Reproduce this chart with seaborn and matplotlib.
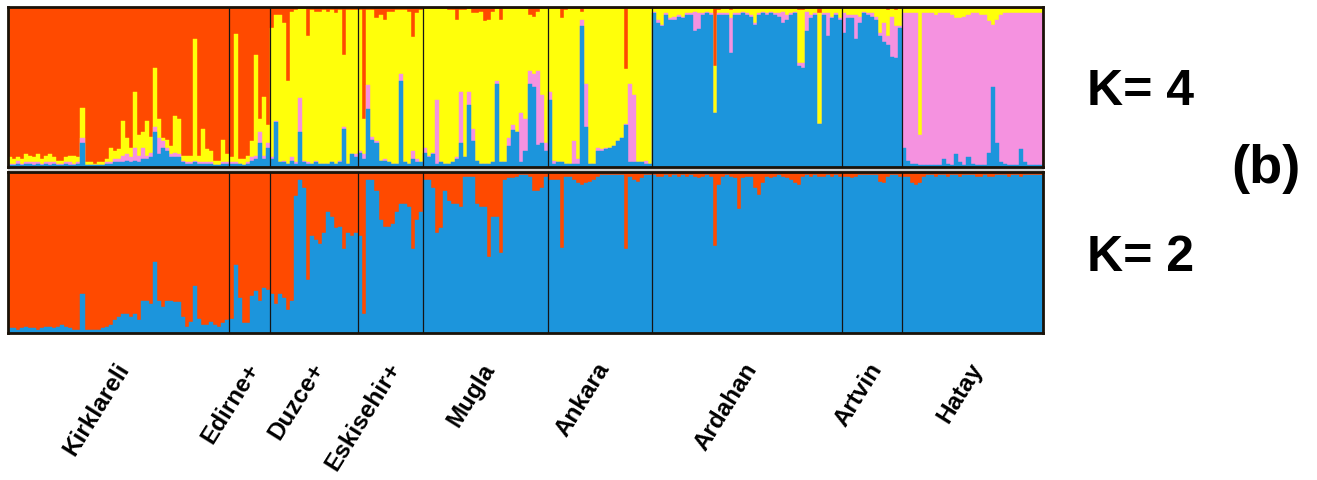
import numpy as np
import pandas as pd
import matplotlib
matplotlib.use("Agg")
import matplotlib.pyplot as plt
import seaborn as sns
from matplotlib.transforms import ScaledTranslation
from matplotlib.patches import Rectangle

sns.set_theme(style="white")
plt.rcParams["font.family"] = ["Liberation Sans", "DejaVu Sans"]
plt.rcParams["text.color"] = "black"
plt.rcParams["xtick.color"] = "black"

# ---------------- data ----------------
pop_names = ["Kirklareli", "Edirne+", "Duzce+", "Eskisehir+", "Mugla",
             "Ankara", "Ardahan", "Artvin", "Hatay"]
pop_sizes = [55, 10, 22, 16, 31, 26, 47, 15, 35]

# K = 4 membership (blue, pink, yellow); red = remainder
k4_blue = [
    # Kirklareli
    .01, .01, .02, .01, .02, .02, .01, .02, .01, .02, .01, .02, .01, .01, .02, .01, .01, .02,
    .15, .01, .01, .01, .01, .01, .02,
    .02, .03, .03, .03, .04, .03, .04, .03, .05, .05, .06, .22, .08, .12, .10, .06, .06, .06, .03, .02,
    .02, .03, .02, .02, .02, .02, .01, .01, .02, .02,
    # Edirne+
    .02, .02, .02, .01, .02, .04, .05, .15, .05, .12,
    # Duzce+
    .05, .28, .03, .03, .02, .04, .02, .22, .03, .02, .02, .03, .02, .02, .02, .03, .02, .03, .24, .02, .08, .06,
    # Eskisehir+
    .09, .05, .36, .17, .15, .04, .04, .03, .02, .02, .54, .03, .02, .05, .03, .03,
    # Mugla
    .09, .06, .08, .02, .03, .02, .02, .03, .05, .15, .06, .39, .16, .04, .02, .02, .02, .03, .52, .03,
    .03, .13, .23, .22, .03, .10, .52, .50, .14, .15, .10,
    # Ankara
    .42, .02, .03, .03, .02, .02, .02, .02, .88, .25, .02, .02, .10, .10, .11, .12, .13, .16, .18, .26,
    .03, .03, .03, .03, .02, .02,
    # Ardahan
    .96, .90, .88, .95, .92, .92, .94, .93, .95, .95, .85, .86, .95, .96, .95, .34, .95, .95, .95, .71,
    .95, .95, .96, .95, .94, .89, .95, .96, .95, .96, .95, .94, .90, .92, .95, .96, .63, .62, .85, .93,
    .95, .27, .95, .82, .93, .95, .92,
    # Artvin
    .84, .93, .93, .80, .90, .96, .95, .94, .92, .82, .78, .76, .69, .68, .87,
    # Hatay
    .12, .04, .02, .02, .01, .01, .01, .01, .01, .01, .05, .02, .01, .08, .03, .01, .06, .02, .01, .01,
    .01, .09, .50, .15, .03, .02, .01, .01, .01, .11, .03, .01, .01, .01, .01,
]
k4_pink = [
    # Kirklareli
    .01, .01, .02, .01, .01, .01, .02, .01, .01, .01, .02, .01, .01, .01, .01, .02, .01, .01,
    .03, 0, 0, 0, 0, 0, .01,
    .01, .02, .02, .04, .04, .03, .08, .04, .07, .02, .03, .03, .10, .04, .02, .02, .03, .02, .01, .01,
    .01, .01, .01, .01, .01, .01, 0, 0, .01, .01,
    # Edirne+
    .01, .01, 0, 0, .01, .02, .02, .07, .02, .03,
    # Duzce+
    .01, .01, 0, .01, 0, .02, .01, .21, .01, .01, 0, .01, 0, 0, 0, 0, 0, .01, .01, 0, 0, .02,
    # Eskisehir+
    .01, .03, .15, .02, .01, 0, .01, 0, 0, 0, .04, 0, 0, .05, .02, 0,
    # Mugla
    .03, .01, .01, .40, 0, 0, 0, 0, .01, .32, 0, .08, .08, 0, 0, 0, 0, 0, .02, 0,
    0, .05, .03, 0, .31, .20, .08, .08, .46, .30, .05,
    # Ankara
    .05, .02, 0, 0, 0, 0, .14, .03, .04, .27, 0, 0, .02, .01, .01, 0, 0, 0, 0, .01,
    .49, .42, 0, 0, .02, 0,
    # Ardahan
    .01, .02, .01, .01, .01, .02, .01, .01, .01, .01, .12, .10, .01, .01, .01, 0, .01, .01, .01, .22,
    .01, .01, .01, .01, .01, .01, .01, .01, .01, .01, .01, .02, .07, .03, .01, .01, .02, .03, .12, .02,
    .01, 0, .01, .14, .01, .01, .01,
    # Artvin
    .12, .02, .02, .15, .04, .01, .01, .02, .02, .02, .12, .06, .25, .20, .01,
    # Hatay
    .84, .92, .94, .94, .19, .95, .95, .95, .94, .95, .91, .94, .94, .85, .90, .93, .89, .94, .95, .94,
    .94, .82, .39, .77, .92, .94, .95, .95, .95, .85, .93, .95, .95, .95, .95,
]
k4_yellow = [
    # Kirklareli
    .04, .03, .02, .03, .05, .04, .03, .05, .03, .04, .05, .03, .02, .02, .03, .04, .05, .03,
    .19, .02, .02, .01, .02, .02, .02,
    .09, .05, .06, .22, .10, .06, .35, .13, .10, .22, .10, .37, .12, .02, .05, .05, .23, .22, .03, .04,
    .04, .76, .04, .21, .08, .07, .03, .03, .14, .05,
    # Edirne+
    .03, .80, .03, .04, .04, .10, .63, .08, .37, .11,
    # Duzce+
    .81, .66, .92, .86, .52, .91, .95, .56, .95, .79, .96, .93, .95, .96, .95, .95, .94, .94, .45, .96, .90, .90,
    # Eskisehir+
    .88, .22, .47, .79, .77, .91, .87, .94, .95, .96, .40, .95, .95, .71, .91, .95,
    # Mugla
    .87, .92, .90, .57, .96, .97, .96, .95, .86, .51, .92, .52, .72, .92, .95, .89, .90, .94, .45, .89,
    .96, .81, .73, .77, .65, .69, .35, .36, .37, .54, .84,
    # Ankara
    .52, .95, .96, .90, .96, .97, .83, .94, .05, .47, .97, .97, .87, .88, .87, .87, .86, .83, .81, .34,
    .47, .54, .96, .96, .95, .97,
    # Ardahan
    .02, .07, .10, .03, .06, .05, .04, .05, .03, .03, .02, .03, .03, .02, .03, .29, .02, .03, .03, .05,
    .03, .03, .02, .03, .04, .09, .03, .02, .03, .02, .03, .03, .02, .04, .03, .02, .33, .33, .02, .04,
    .03, .69, .03, .03, .05, .03, .06,
    # Artvin
    .03, .04, .04, .04, .05, .02, .03, .03, .05, .15, .09, .16, .05, .10, .11,
    # Hatay
    .03, .03, .03, .03, .79, .03, .03, .03, .04, .03, .03, .03, .04, .06, .06, .05, .04, .03, .03, .04,
    .04, .08, .10, .07, .04, .03, .03, .03, .03, .03, .03, .03, .03, .03, .03,
]

# K = 2 membership (blue); red = remainder
k2_blue = [
    # Kirklareli
    .03, .03, .02, .03, .04, .03, .03, .02, .03, .04, .04, .03, .04, .05, .04, .03, .02, .02,
    .24, .02, .02, .02, .02, .03, .04, .05,
    .08, .10, .12, .12, .10, .12, .08, .20, .20, .18, .44, .20, .16, .20, .20, .19, .19, .10, .04, .07,
    .29, .09, .05, .05, .07, .05, .04, .06, .08,
    # Edirne+
    .09, .42, .22, .06, .06, .23, .26, .20, .28, .27,
    # Duzce+
    .24, .18, .24, .22, .14, .20, .85, .95, .90, .33, .60, .58, .55, .62, .75, .72, .65, .66, .52, .62, .60, .62,
    # Eskisehir+
    .60, .12, .95, .95, .88, .70, .66, .66, .68, .75, .80, .80, .78, .52, .70, .75,
    # Mugla
    .95, .95, .90, .62, .65, .88, .82, .80, .80, .78, .97, .97, .97, .80, .78, .78, .47, .72, .72, .50,
    .95, .96, .96, .97, .98, .98, .97, .88, .88, .90, .97,
    # Ankara
    .95, .95, .95, .53, .97, .97, .95, .93, .92, .93, .94, .95, .97, .98, .98, .98, .98, .98, .98, .52,
    .97, .95, .94, .96, .98, .98,
    # Ardahan
    .98, .97, .97, .98, .97, .98, .97, .98, .97, .98, .97, .96, .97, .98, .97, .54, .92, .97, .98, .97,
    .96, .77, .96, .97, .97, .90, .86, .93, .97, .96, .97, .98, .97, .96, .95, .93, .92, .97, .98, .97,
    .98, .97, .97, .98, .97, .98, .97,
    # Artvin
    .97, .97, .96, .97, .98, .98, .98, .98, .98, .94, .93, .97, .98, .98, .97,
    # Hatay
    .97, .97, .93, .92, .93, .97, .98, .98, .97, .98, .98, .97, .98, .98, .97, .98, .98, .98, .97, .97,
    .98, .97, .97, .98, .98, .98, .97, .98, .98, .97, .98, .98, .98, .98, .98,
]

RED = "#FF4A00"
YELLOW = "#FFFF0A"
PINK = "#F592E0"
BLUE = "#1C95DC"

# ---------------- figure ----------------
n = len(k2_blue)
ind = np.arange(n)
b4 = np.array(k4_blue)
p4 = np.array(k4_pink)
y4 = np.array(k4_yellow)
df4 = pd.DataFrame({
    "ind": ind,
    "c_red": np.ones(n),
    "c_yellow": b4 + p4 + y4,
    "c_pink": b4 + p4,
    "c_blue": b4,
})
df2 = pd.DataFrame({"ind": ind, "c_red": np.ones(n), "c_blue": np.array(k2_blue)})

fig = plt.figure(figsize=(13.17, 4.8), dpi=100)
W, H = 1317, 480
ax1 = fig.add_axes([8 / W, 1 - 167 / H, 1035 / W, 160 / H])
ax2 = fig.add_axes([8 / W, 1 - 333 / H, 1035 / W, 161 / H])

fig.add_artist(Rectangle((8 / W, 1 - 172 / H), 1035 / W, 5 / H,
                         transform=fig.transFigure, color="#cfcfcf", zorder=0))

for col, colr in [("c_red", RED), ("c_yellow", YELLOW), ("c_pink", PINK), ("c_blue", BLUE)]:
    sns.barplot(data=df4, x="ind", y=col, color=colr, saturation=1, width=1,
                errorbar=None, edgecolor=colr, linewidth=0.3, ax=ax1)
for col, colr in [("c_red", RED), ("c_blue", BLUE)]:
    sns.barplot(data=df2, x="ind", y=col, color=colr, saturation=1, width=1,
                errorbar=None, edgecolor=colr, linewidth=0.3, ax=ax2)

bounds = np.cumsum(pop_sizes)
centers = bounds - np.array(pop_sizes) / 2 - 0.5
for ax in (ax1, ax2):
    ax.set_xlim(-0.5, n - 0.5)
    ax.set_ylim(0, 1)
    ax.set_xlabel("")
    ax.set_ylabel("")
    ax.set_yticks([])
    for bx in bounds[:-1]:
        ax.axvline(bx - 0.5, color="#151515", lw=0.9)
    for s in ax.spines.values():
        s.set_visible(True)
        s.set_color("#1a1208")
        s.set_linewidth(2.0)

ax1.set_xticks([])
ax2.set_xticks(centers)
ax2.set_xticklabels(pop_names, rotation=58, ha="right", va="center",
                    rotation_mode="anchor", fontsize=17.5, fontweight="bold", color="black")
ax2.tick_params(axis="x", length=0, pad=23)
for lab in ax2.get_xticklabels():
    lab.set_transform(lab.get_transform() + ScaledTranslation(5 / 100, 0, fig.dpi_scale_trans))

fig.text(1087 / W, 1 - 92 / H, "K= 4", fontsize=36, fontweight="bold", ha="left", va="center", color="black")
fig.text(1231 / W, 1 - 169 / H, "(b)", fontsize=39, fontweight="bold", ha="left", va="center", color="black")
fig.text(1087 / W, 1 - 258 / H, "K= 2", fontsize=36, fontweight="bold", ha="left", va="center", color="black")

fig.savefig("out.png", dpi=100, facecolor="white")
